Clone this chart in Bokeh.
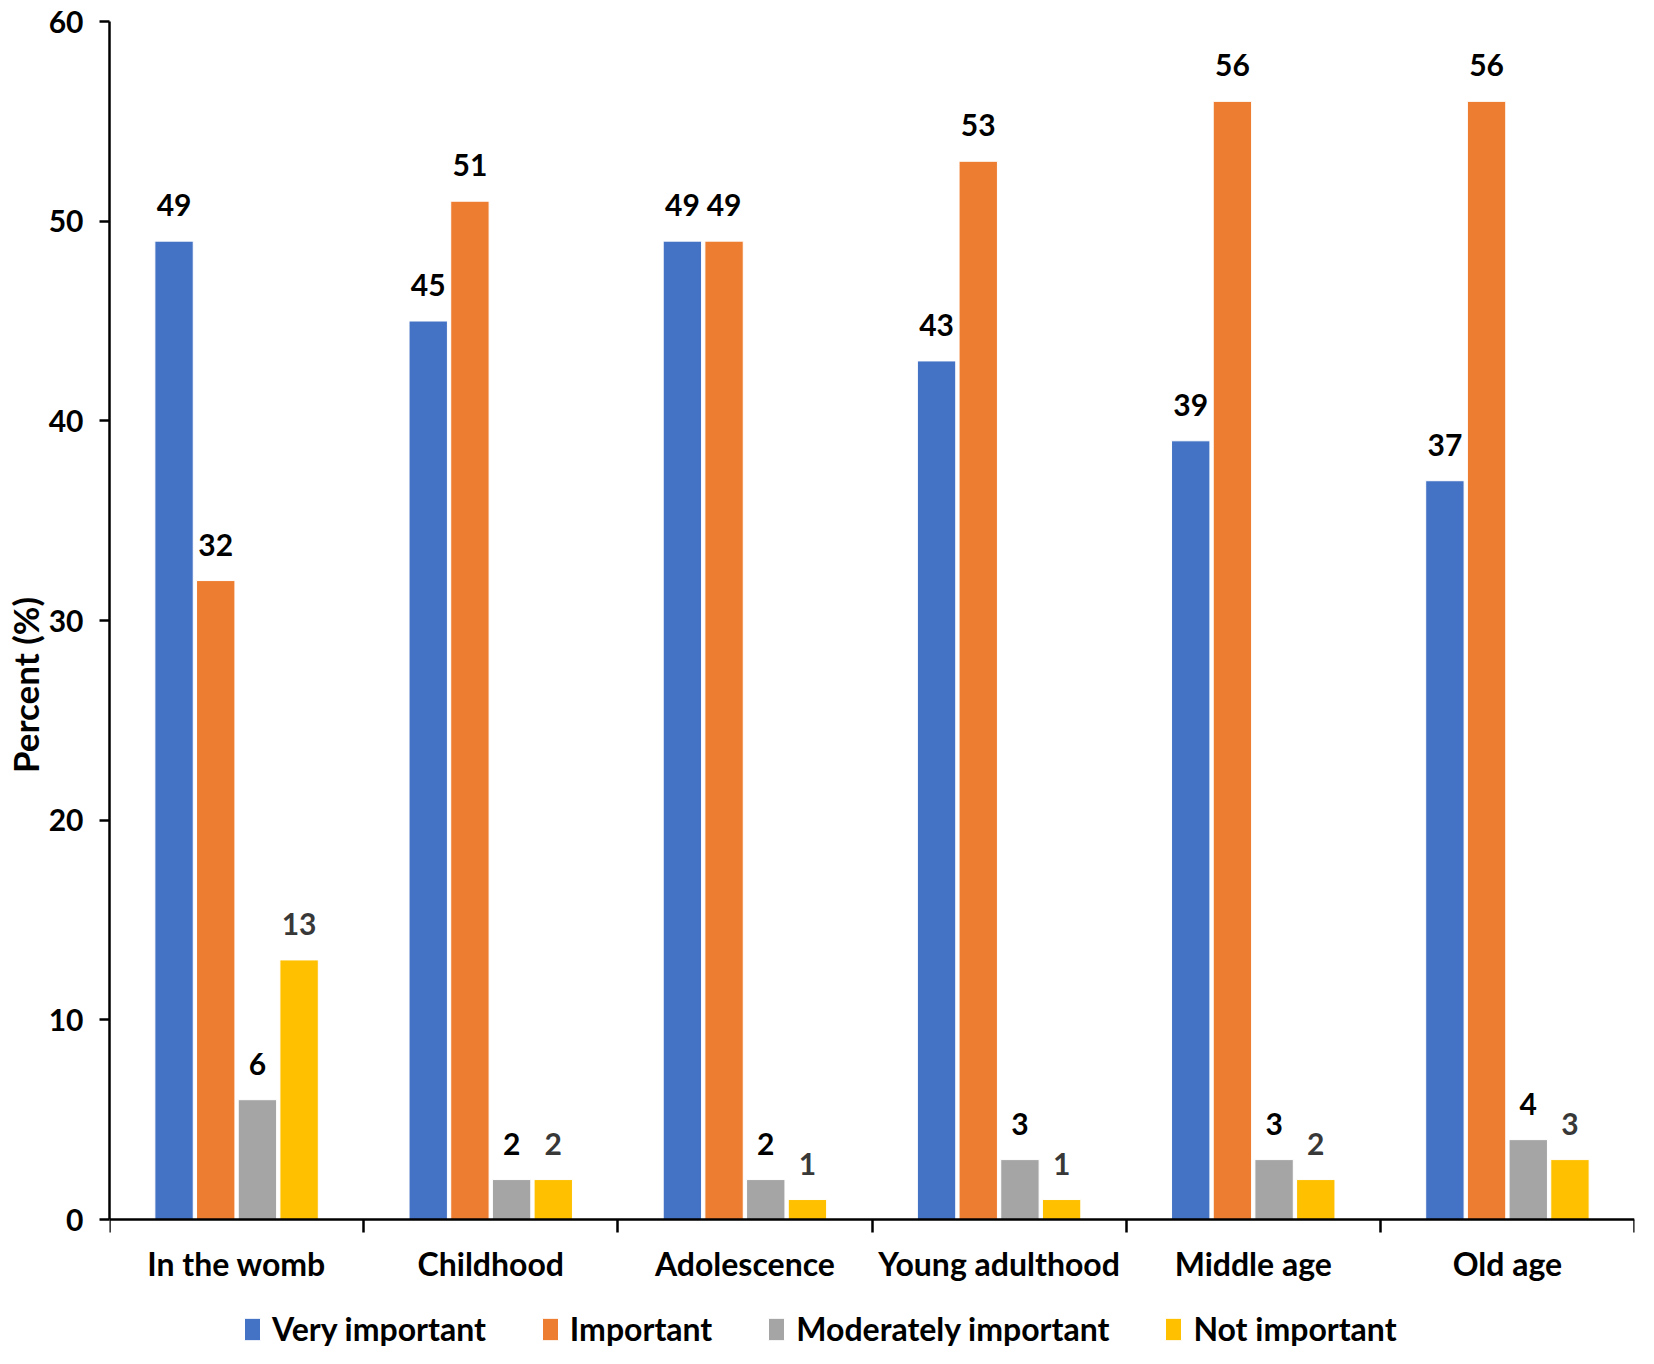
from bokeh.plotting import figure
from bokeh.models import ColumnDataSource, Range1d, FixedTicker, Legend, LegendItem
from bokeh.transform import dodge
from bokeh.core.properties import value
from bokeh.embed import file_html
from bokeh.resources import INLINE

categories = ["In the womb", "Childhood", "Adolescence", "Young adulthood", "Middle age", "Old age"]
very_important = [49, 45, 49, 43, 39, 37]
important = [32, 51, 49, 53, 56, 56]
moderately_important = [6, 2, 2, 3, 3, 4]
not_important = [13, 2, 1, 1, 2, 3]
series_names = ["Very important", "Important", "Moderately important", "Not important"]
y_ticks = [0, 10, 20, 30, 40, 50, 60]

colors = ["#4472C4", "#ED7D31", "#A5A5A5", "#FFC000"]
label_colors = ["#000000", "#000000", "#000000", "#383838"]
FONT = "Lato"

W, H = 1638, 1348
TOP, LEFT = 21, 106
ZERO_PX = 1219          # pixel row of the value 0
px_per_unit = (ZERO_PX - TOP) / 60.0
y_low = -(H - ZERO_PX) / px_per_unit   # room below the axis for labels and legend

pos = list(range(len(categories)))
data = dict(x=pos, cat=categories,
            s0=very_important, s1=important, s2=moderately_important, s3=not_important)
for k in range(4):
    data["t%d" % k] = [str(v) for v in data["s%d" % k]]
src = ColumnDataSource(data)

p = figure(width=W, height=H, output_backend="svg", toolbar_location=None,
           x_range=Range1d(-0.5, len(categories) - 0.5), y_range=Range1d(y_low, 60),
           x_axis_location="above",
           min_border_left=LEFT, min_border_right=4, min_border_top=TOP, min_border_bottom=0)
p.outline_line_color = None
p.xgrid.visible = False
p.ygrid.visible = False
p.background_fill_color = "white"

pitch = 0.164
width = 0.151
offsets = [-1.5 * pitch, -0.5 * pitch, 0.5 * pitch, 1.5 * pitch]
items = []
for k in range(4):
    r = p.vbar(x=dodge("x", offsets[k], range=p.x_range), top="s%d" % k, width=width, bottom=0,
               source=src, fill_color=colors[k], line_color="white", line_width=1)
    items.append(LegendItem(label=series_names[k], renderers=[r]))
    p.text(x=dodge("x", offsets[k], range=p.x_range), y="s%d" % k, text="t%d" % k, source=src,
           text_align="center", text_baseline="alphabetic", y_offset=-36,
           text_font=value(FONT), text_font_style="bold", text_font_size="30px",
           text_color=label_colors[k])

# category labels under the axis
p.text(x="x", y=0, text="cat", source=src, text_align="center", text_baseline="middle",
       y_offset=44, text_font=value(FONT), text_font_style="bold", text_font_size="32px",
       text_color="black")

# x axis drawn at value 0, with ticks at group boundaries
xa = p.xaxis[0]
xa.fixed_location = 0
xa.ticker = FixedTicker(ticks=[], minor_ticks=[i - 0.5 for i in range(len(categories) + 1)])
xa.major_tick_line_color = None
xa.major_tick_out = 0
xa.major_tick_in = 0
xa.minor_tick_out = 0
xa.minor_tick_in = 13
xa.minor_tick_line_width = 2.5
xa.minor_tick_line_color = "black"
xa.axis_line_width = 2.5
xa.axis_line_color = "black"
xa.major_label_standoff = 0
xa.major_label_text_font_size = "0px"

# y axis
ya = p.yaxis[0]
ya.bounds = (0, 60)
ya.ticker = FixedTicker(ticks=y_ticks)
ya.minor_tick_line_color = None
ya.major_tick_out = 10
ya.major_tick_in = 0
ya.major_tick_line_width = 2.5
ya.major_tick_line_color = "black"
ya.axis_line_width = 2.5
ya.axis_line_color = "black"
ya.major_label_standoff = 16
ya.major_label_text_font = FONT
ya.major_label_text_font_style = "bold"
ya.major_label_text_font_size = "30px"
ya.major_label_text_color = "black"
ya.axis_label = "Percent (%)"
ya.axis_label_text_font = FONT
ya.axis_label_text_font_style = "bold"
ya.axis_label_text_font_size = "35px"
ya.axis_label_text_color = "black"
ya.axis_label_standoff = 0

legend = Legend(items=items, orientation="horizontal", location=(133, 0),
                border_line_color=None, background_fill_alpha=0, padding=0, margin=0,
                spacing=54, label_standoff=10, glyph_width=20, glyph_height=28,
                label_text_font=FONT, label_text_font_style="bold",
                label_text_font_size="32px", label_text_color="black")
p.add_layout(legend, "center")

open("out.html", "w").write(file_html(p, INLINE))
